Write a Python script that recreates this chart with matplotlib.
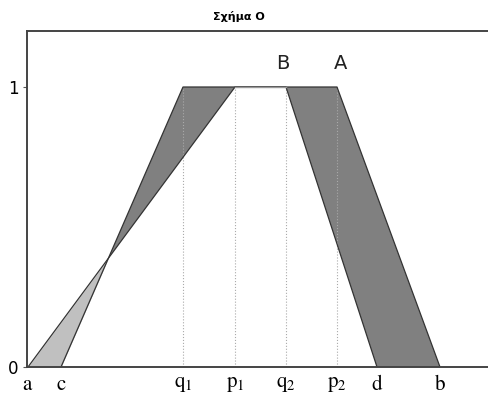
import numpy as np
import matplotlib.pyplot as plt

plt.rcParams['mathtext.fontset'] = 'stix'

# Break points on the horizontal axis
point_names = ['a', 'c', 'q_1', 'p_1', 'q_2', 'p_2', 'd', 'b']
point_x = [0.0, 3.3, 15.5, 20.7, 25.8, 30.9, 34.9, 41.2]
pos = dict(zip(point_names, point_x))

# Trapezoid A: c -> q1 -> p2 -> b ; trapezoid B: a -> p1 -> q2 -> d
A_x = [pos['c'], pos['q_1'], pos['p_2'], pos['b']]
B_x = [pos['a'], pos['p_1'], pos['q_2'], pos['d']]
mu = [0, 1, 1, 0]

fig = plt.figure(figsize=(4.89, 4.01), dpi=100)
ax = fig.add_axes([27 / 489, 34 / 401, 1 - 27 / 489, 336 / 401])

x = np.linspace(-0.1, 46.1, 4000)
muA = np.interp(x, A_x, mu, left=0, right=0)
muB = np.interp(x, B_x, mu, left=0, right=0)
lo = np.minimum(muA, muB)
hi = np.maximum(muA, muB)
ax.fill_between(x, lo, hi, where=muA > muB, color='#808080', lw=0, interpolate=True)
ax.fill_between(x, lo, hi, where=muB > muA, color='#c0c0c0', lw=0, interpolate=True)

# dotted guides under the plateau corners
for name in ['q_1', 'p_1', 'q_2', 'p_2']:
    ax.plot([pos[name], pos[name]], [0, 1], color='#aaaaaa', lw=0.8, ls=':')

ax.plot(A_x, mu, color='#333333', lw=0.9)
ax.plot(B_x, mu, color='#333333', lw=0.9)
ax.plot([pos['p_1'], pos['q_2']], [1, 1], color='#999999', lw=1.0)

ax.text(pos['q_2'] - 0.3, 1.05, 'B', fontsize=14, ha='center', va='bottom', color='#222222')
ax.text(pos['p_2'] + 0.4, 1.05, 'A', fontsize=14, ha='center', va='bottom', color='#222222')

ax.set_xlim(-0.1, 46.1)
ax.set_ylim(0, 1.2)
ax.set_xticks(point_x)
ax.set_xticklabels([r'$\mathrm{%s}$' % n for n in point_names], fontsize=15)
ax.tick_params(axis='x', length=0, pad=5)
ax.set_yticks([0, 1])
ax.set_yticklabels(['0', '1'], fontsize=12)
ax.tick_params(axis='y', length=3, color='#555555', pad=3)

for side in ['left', 'top', 'bottom']:
    ax.spines[side].set_color('#444444')
    ax.spines[side].set_linewidth(1.4)
ax.spines['right'].set_visible(False)

fig.text(239 / 489, 1 - 17 / 401, 'Σχήμα Ο', fontsize=8, fontweight='bold',
         ha='center', va='center')

fig.savefig('out.png', dpi=100)
